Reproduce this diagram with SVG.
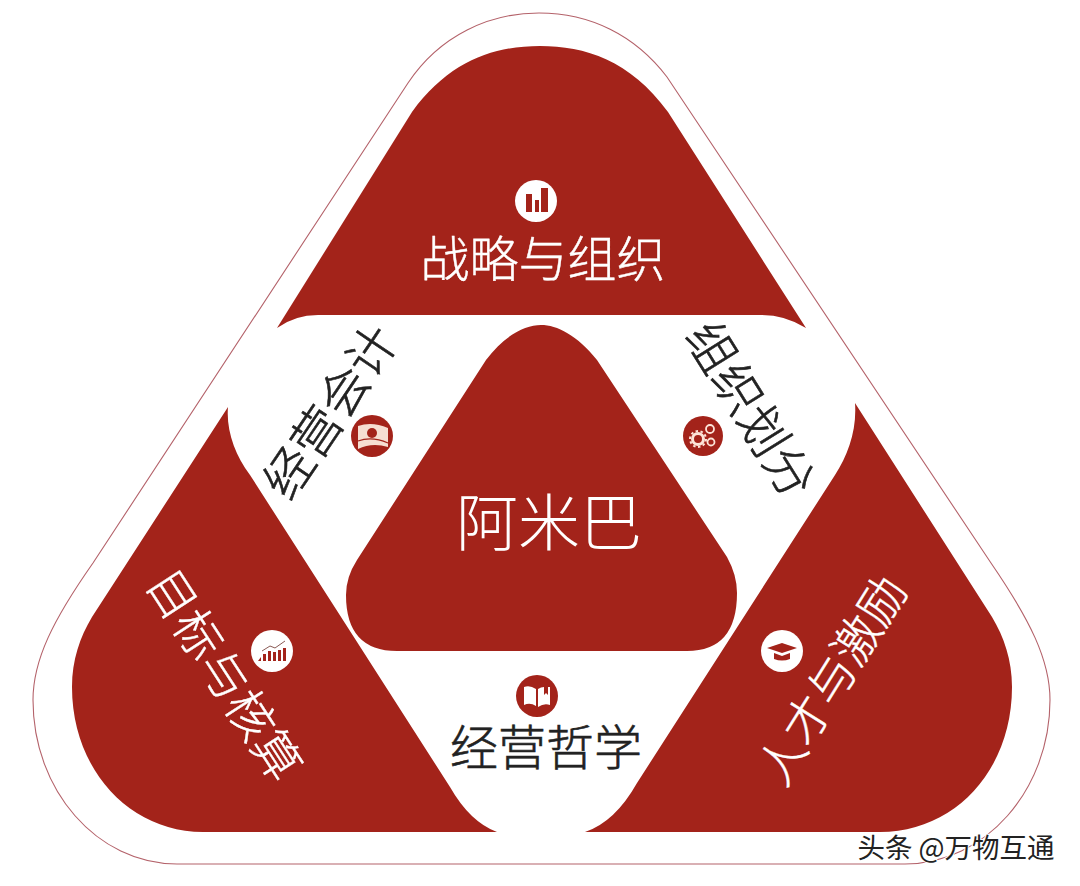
<svg xmlns="http://www.w3.org/2000/svg" width="1080" height="886" viewBox="0 0 1080 886">
<style>
.r{fill:#a3231a}
.t{font-family:"Noto Sans CJK SC","Liberation Sans",sans-serif;text-anchor:middle}
.l{font-weight:300}.m{font-weight:400}
.w{fill:#fff}.k{fill:#222}
.s{stroke:#222;stroke-width:.6}.sw{stroke:#fff;stroke-width:.4}
</style>
<rect width="1080" height="886" fill="#fff"/>
<g id="outline"><path d="M408,83 C440,35 490,13 539,13 C590,13 635,35 667,77 L991,563 C1030,620 1050,660 1050,700 C1050,790 985,864 905,864 L177,864 C97,864 33,790 33,700 C33,660 53,620 93,563Z" fill="none" stroke="#b4626a" stroke-width="1.1"/></g>
<g id="strategy"><path class="r" d="M277,328 Q295,315 318,315 L762,315 Q785,315 806,328 L668,112 C630,60 585,46 540,46 C495,46 450,60 412,112Z"/>
<circle class="w" cx="536" cy="201" r="21"/><path class="r" d="M526,194h6v18h-6zM535,200h4v12h-4zM541,188h7v24h-7z"/>
<text class="t l sw w" x="543" y="277" font-size="49">战略与组织</text></g>
<g id="accounting"><circle class="r" cx="372" cy="436" r="21"/><path fill="#f6ded2" d="M358,426Q372,421 388,428L388,447Q372,442 358,449Z"/><circle class="r" cx="372" cy="433" r="5"/><path d="M358,441Q372,436 388,443" fill="none" stroke="#a3231a" stroke-width="1.3"/>
<text class="t l s k" transform="translate(331,412) rotate(-56)" y="17" font-size="49">经营会计</text></g>
<g id="division"><circle class="r" cx="703" cy="436" r="20"/><g fill="none" stroke="#fde4d8"><circle cx="698" cy="439" r="5.5" stroke-width="3"/><circle cx="698" cy="439" r="8" stroke-width="2" stroke-dasharray="2.5 2.5"/><circle cx="710" cy="429" r="4" stroke-width="1.8"/><circle cx="711" cy="442" r="3.5" stroke-width="1.8"/></g>
<text class="t l s k" transform="translate(750,410) rotate(58)" y="17" font-size="49">组织划分</text></g>
<g id="targets"><path class="r" d="M228,407 C226,430 235,455 250,475 L450,787 Q470,822 497,832 L203,832 C130,832 72,770 72,687 C72,660 80,637 92,617Z"/>
<circle class="w" cx="272" cy="651" r="21"/><path class="r" d="M258,661l3-4v4zM263,661v-7h3v7zM268,661v-10h3v10zM273,661v-9h3v9zM278,661v-11h3v11zM283,661v-13h3v13z"/><path d="M262,651l8-5 5,2 10-7" fill="none" stroke="#8a5a55" stroke-width="1"/>
<text class="t l sw w" transform="translate(224,675) rotate(57)" y="17" font-size="48">目标与核算</text></g>
<g id="talent"><path class="r" d="M855,403 C857,430 848,455 835,475 L637,783 Q615,822 585,832 L880,832 C955,832 1012,770 1012,687 C1012,660 1004,637 992,617Z"/>
<circle class="w" cx="782" cy="651" r="21"/><path class="r" d="M767,648l15-5 15,5-15,5zM774,653l8,3 8-3v6q-8,3-16,0z"/>
<text class="t l sw w" transform="translate(832,680) rotate(-58)" y="17" font-size="47">人才与激励</text></g>
<g id="philosophy"><circle class="r" cx="537" cy="696" r="21"/><path class="w" d="M524,687q6-2 12,2v17q-6-4-12-1zM538,689q3-2 6-2v8l2-2 2,2v-8h2v18q-6-2-12,2z"/>
<text class="t l s k" x="546" y="765" font-size="48">经营哲学</text></g>
<g id="amoeba"><path class="r" d="M486,360 C505,335 525,325 541,325 C557,325 577,335 597,360 L727,557 Q737,575 737,593 Q737,651 687,651 L397,651 Q346,651 346,595 Q346,577 357,560Z"/>
<text class="t l w" x="549" y="546" font-size="62">阿米巴</text></g>
<text id="watermark" class="t m k" x="956" y="858" font-size="27.5" style="paint-order:stroke;stroke:#fff;stroke-width:2">头条 @万物互通</text>
<g id="connectors"></g>
</svg>
